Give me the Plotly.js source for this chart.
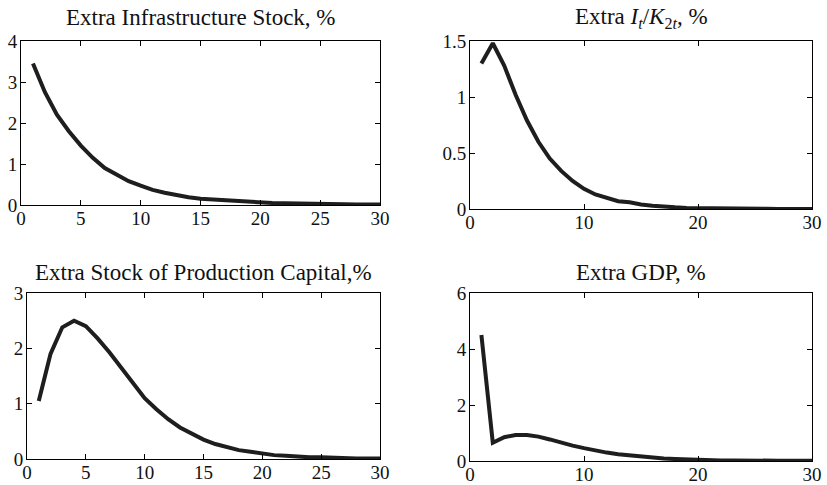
<!DOCTYPE html>
<html><head><meta charset="utf-8">
<script src="https://cdn.plot.ly/plotly-3.0.1.min.js"></script>
<style>html,body{margin:0;padding:0;background:#fff}#chart{width:827px;height:485px}</style>
</head><body><div id="chart"></div>
<script>
const periods = Array.from({length:30},(_,i)=>i+1);
const infraStock = [3.45,2.75,2.2,1.8,1.45,1.15,0.9,0.73,0.58,0.47,0.37,0.3,0.24,0.19,0.15,0.13,0.11,0.09,0.07,0.06,0.05,0.04,0.04,0.03,0.02,0.02,0.02,0.01,0.01,0.01];
const investRatio = [1.3,1.48,1.28,1.02,0.79,0.6,0.45,0.34,0.25,0.18,0.13,0.1,0.07,0.06,0.04,0.03,0.02,0.015,0.01,0.01,0.005,0.005,0.004,0.003,0.002,0.002,0.001,0.001,0.001,0.001];
const prodCapital = [1.05,1.9,2.38,2.5,2.4,2.18,1.93,1.65,1.38,1.1,0.9,0.72,0.57,0.45,0.35,0.27,0.21,0.16,0.13,0.1,0.07,0.06,0.04,0.03,0.03,0.02,0.01,0.01,0.01,0.01];
const gdp = [4.5,0.65,0.85,0.93,0.93,0.87,0.77,0.65,0.55,0.46,0.37,0.3,0.24,0.2,0.15,0.12,0.09,0.07,0.05,0.04,0.03,0.02,0.02,0.01,0.01,0.01,0.01,0.01,0.01,0.01];
const titles = ["Extra Infrastructure Stock, %","Extra <i>I</i><sub><i>t</i></sub>/<i>K</i><sub>2<i>t</i></sub>, %","Extra Stock of Production Capital,%","Extra GDP, %"];
const xTicks = [[0,5,10,15,20,25,30],[0,10,20,30],[0,5,10,15,20,25,30],[0,10,20,30]];
const yTicks = [[0,1,2,3,4],[0,0.5,1,1.5],[0,1,2,3],[0,2,4,6]];
const yTickText = [["0","1","2","3","4"],["0","0.5","1","1.5"],["0","1","2","3"],["0","2","4","6"]];
const yRanges = [[0,4],[0,1.5],[0,3],[0,6]];

const W=827,H=485;
const boxes = [[21,380,41,205],[470,812,41,209],[27,380,293,459],[470,812,293,461]];
const titleY = [18,18,272,272];
const series=[infraStock,investRatio,prodCapital,gdp];
const fam="Liberation Serif, Times New Roman, serif";
const font={family:fam,size:19,color:"#111"};
const data=[], layout={width:W,height:H,margin:{l:0,r:0,t:0,b:0},showlegend:false,paper_bgcolor:"#fff",plot_bgcolor:"#fff",font:font,annotations:[]};
series.forEach((s,i)=>{
  const n=i===0?"":String(i+1);
  data.push({x:periods,y:s,type:"scatter",mode:"lines",xaxis:"x"+n,yaxis:"y"+n,line:{color:"#1e1e1e",width:4}});
  const b=boxes[i];
  const ax={showline:true,linecolor:"#000",linewidth:1,mirror:"ticks",ticks:"inside",ticklen:5,tickcolor:"#000",showgrid:false,zeroline:false,tickfont:font,fixedrange:true};
  layout["xaxis"+n]=Object.assign({},ax,{domain:[b[0]/W,b[1]/W],range:[0,30],tickvals:xTicks[i],anchor:"y"+n,ticklabelstandoff:-4});
  layout["yaxis"+n]=Object.assign({},ax,{domain:[1-b[3]/H,1-b[2]/H],range:yRanges[i],tickvals:yTicks[i],ticktext:yTickText[i],anchor:"x"+n,ticklabelstandoff:-1});
  layout.annotations.push({text:titles[i],xref:"paper",yref:"paper",x:(b[0]+b[1])/2/W,y:1-titleY[i]/H,xanchor:"center",yanchor:"middle",showarrow:false,font:{family:fam,size:23,color:"#111"}});
});
Plotly.newPlot("chart",data,layout,{staticPlot:true});
</script></body></html>
